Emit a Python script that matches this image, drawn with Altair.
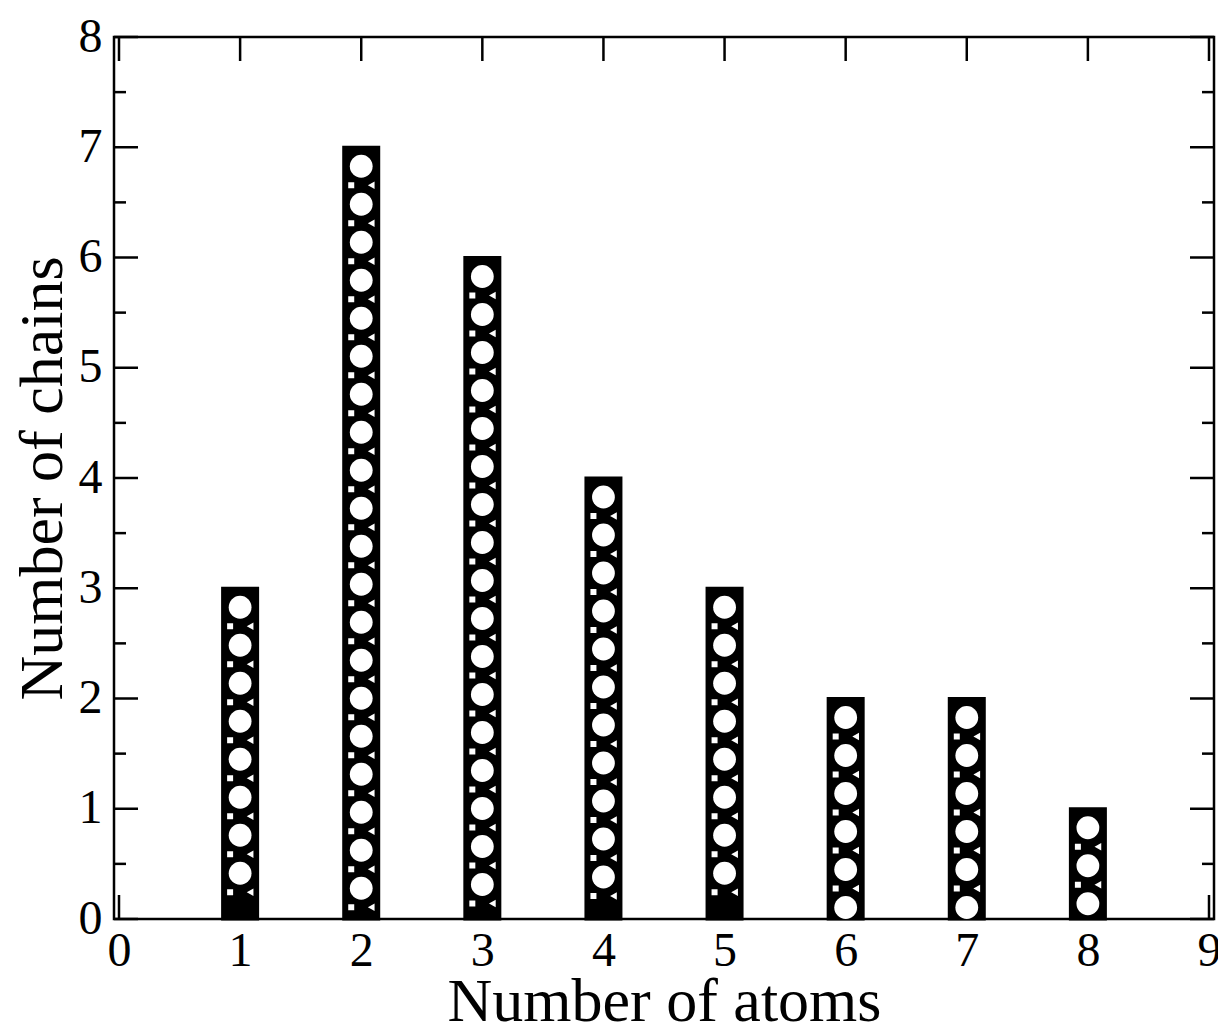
import altair as alt
import pandas as pd

# ---- data ----
atoms = [1, 2, 3, 4, 5, 6, 7, 8]
chains = [3, 7, 6, 4, 3, 2, 2, 1]
x_major = [0, 1, 2, 3, 4, 5, 6, 7, 8, 9]
y_major = [0, 1, 2, 3, 4, 5, 6, 7, 8]
y_minor = [0.5, 1.5, 2.5, 3.5, 4.5, 5.5, 6.5, 7.5]

W, H = 1100, 882
FONT = "Liberation Serif"

bars_df = pd.DataFrame({"atoms": atoms, "chains": chains})

# texture of the hatched bars (decorative pattern derived from bar heights,
# laid out from the top of each bar downwards)
unit_px = H / 8.0
period = 38 / unit_px
r_circ = 12 / unit_px
circ_rows, small_rows = [], []
for a, c in zip(atoms, chains):
    k = 0
    while c - (k + 0.5) * period - r_circ >= -0.01:
        circ_rows.append({"atoms": a, "y": c - (k + 0.5) * period})
        k += 1
    k = 1
    while c - k * period - 4 / unit_px >= 0:
        small_rows.append({"atoms": a, "y": c - k * period})
        k += 1
circ_df = pd.DataFrame(circ_rows)
small_df = pd.DataFrame(small_rows)

xscale = alt.Scale(domain=[0, 9], nice=False, zero=False)
yscale = alt.Scale(domain=[0, 8], nice=False, zero=False)
xaxis = alt.Axis(values=x_major, title="Number of atoms", domain=False, ticks=False,
                 tickSize=0, grid=False, labelFont=FONT, labelFontSize=48,
                 labelColor="black", labelPadding=8, titleFont=FONT,
                 titleFontSize=62, titleFontWeight="normal", titleColor="black",
                 titlePadding=-4, labelFlush=False, labelOverlap=False)
yaxis = alt.Axis(values=y_major, title="Number of chains", domain=False, ticks=False,
                 tickSize=0, grid=False, labelFont=FONT, labelFontSize=48,
                 labelColor="black", labelPadding=12, titleFont=FONT,
                 titleFontSize=62, titleFontWeight="normal", titleColor="black",
                 titlePadding=4, labelFlush=False, labelOverlap=False)

X = lambda f: alt.X(f, scale=xscale, axis=xaxis)
Y = lambda f: alt.Y(f, scale=yscale, axis=yaxis)

ymaj_df = pd.DataFrame({"v": y_major})
ymin_df = pd.DataFrame({"v": y_minor})
xmaj_df = pd.DataFrame({"v": x_major})

rule = dict(color="black", strokeWidth=2.5)
layers = [
    alt.Chart(ymaj_df).mark_rule(**rule).encode(y=Y("v:Q"), x=alt.value(0), x2=alt.value(24)),
    alt.Chart(ymaj_df).mark_rule(**rule).encode(y=Y("v:Q"), x=alt.value(W - 24), x2=alt.value(W)),
    alt.Chart(ymin_df).mark_rule(**rule).encode(y=Y("v:Q"), x=alt.value(0), x2=alt.value(12)),
    alt.Chart(ymin_df).mark_rule(**rule).encode(y=Y("v:Q"), x=alt.value(W - 12), x2=alt.value(W)),
    alt.Chart(xmaj_df).mark_rule(**rule).encode(x=X("v:Q"), y=alt.value(H), y2=alt.value(H - 24)),
    alt.Chart(xmaj_df).mark_rule(**rule).encode(x=X("v:Q"), y=alt.value(0), y2=alt.value(24)),
    alt.Chart(bars_df).mark_bar(size=35, color="black", stroke="black", strokeWidth=3).encode(
        x=X("atoms:Q"), y=Y("chains:Q")),
    alt.Chart(circ_df).mark_point(shape="circle", filled=True, color="white", size=520, opacity=1).encode(
        x=X("atoms:Q"), y=Y("y:Q")),
    alt.Chart(small_df).mark_point(shape="square", filled=True, color="white", size=36, opacity=1,
                                   xOffset=-10).encode(x=X("atoms:Q"), y=Y("y:Q")),
    alt.Chart(small_df).mark_point(shape="triangle-left", filled=True, color="white", size=60, opacity=1,
                                   xOffset=10).encode(x=X("atoms:Q"), y=Y("y:Q")),
]

chart = alt.layer(*layers).properties(
    width=W, height=H,
    autosize=alt.AutoSizeParams(type="none"),
    padding={"left": 106, "top": 29, "right": 4, "bottom": 112},
    background="white",
).configure_view(stroke="black", strokeWidth=2.5)

chart.save("out.html", embed_options={"renderer": "svg", "actions": False})
